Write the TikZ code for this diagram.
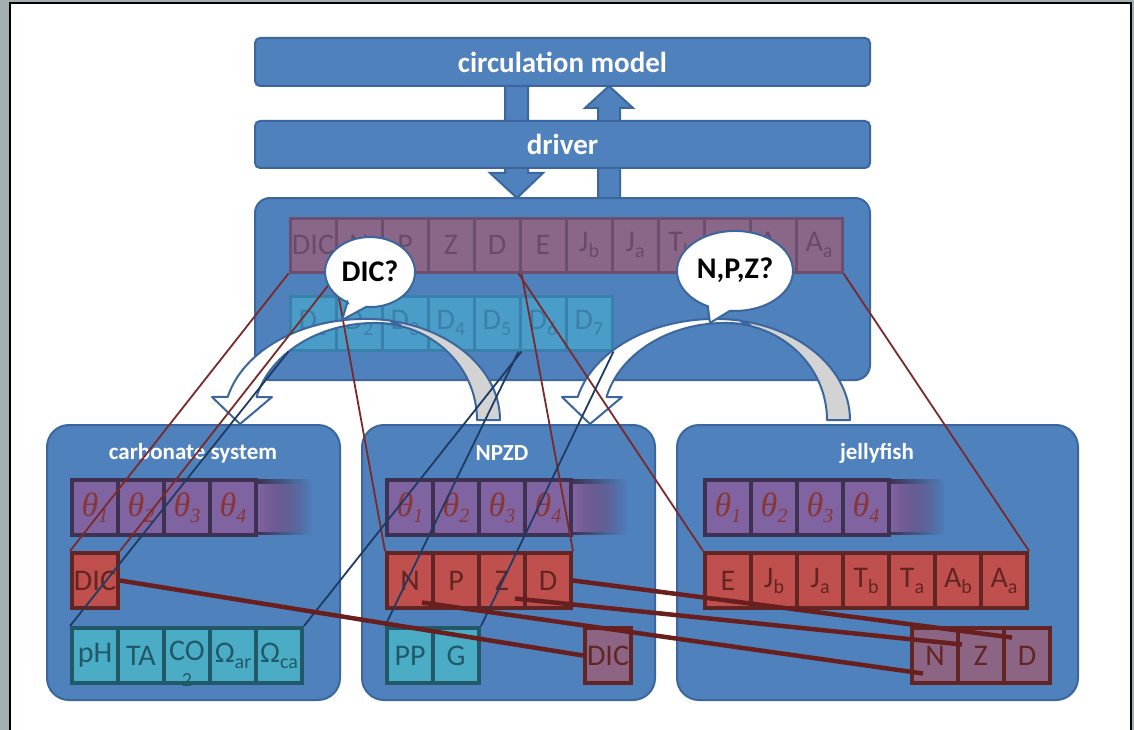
\documentclass[tikz,border=0pt]{standalone}
\usepackage{fontspec}
\setmainfont{Carlito}
\newfontfamily\thetafont{Liberation Serif}
\usetikzlibrary{calc,fadings}

\definecolor{pagegray}{HTML}{A4AFB4}
\definecolor{boxblue}{HTML}{4F81BD}
\definecolor{boxedge}{HTML}{3C679E}
\definecolor{stfill}{HTML}{8A6788}
\definecolor{stedge}{HTML}{6C4E70}
\definecolor{sttext}{HTML}{6A4A6B}
\definecolor{dfill}{HTML}{4A9DC8}
\definecolor{dedge}{HTML}{3A80AC}
\definecolor{dtext}{HTML}{3C7FAA}
\definecolor{thfill}{HTML}{8064A2}
\definecolor{thedge}{HTML}{3F3151}
\definecolor{thtext}{HTML}{8A3535}
\definecolor{redfill}{HTML}{C0504D}
\definecolor{rededge}{HTML}{632523}
\definecolor{tealfill}{HTML}{4BACC6}
\definecolor{tealedge}{HTML}{215968}
\definecolor{mauvefill}{HTML}{8D6584}
\definecolor{thinred}{HTML}{7A2A2A}
\definecolor{navy}{HTML}{1F3B63}
\definecolor{thickred}{HTML}{6A1F1F}
\definecolor{backgray}{HTML}{D3D3D3}

% lowered subscript as in the cell labels
\newcommand{\lo}[1]{\raisebox{-6pt}{\fontsize{20}{20}\selectfont#1}}

\tikzset{
  bar/.style={draw=boxedge, line width=2pt, fill=boxblue, rounded corners=5pt,
    text=white, font=\fontsize{29}{29}\selectfont\bfseries},
  model/.style={draw=boxedge, line width=2pt, fill=boxblue, rounded corners=22pt},
  title/.style={text=white, font=\fontsize{23}{23}\selectfont\bfseries},
  cell/.style={draw, line width=4pt, minimum width=46pt, minimum height=55pt,
    inner sep=0pt, font=\fontsize{30}{30}\selectfont},
  stcell/.style={cell, line width=3pt, fill=stfill, draw=stedge, text=sttext, minimum height=54pt},
  dcell/.style={cell, line width=3pt, fill=dfill, draw=dedge, text=dtext, minimum height=54pt},
  thcell/.style={cell, fill=thfill, draw=thedge, text=thtext,
    font=\fontsize{34}{34}\thetafont\itshape},
  redcell/.style={cell, fill=redfill, draw=rededge, text=rededge},
  tealcell/.style={cell, fill=tealfill, draw=tealedge, text=tealedge},
  mauvecell/.style={cell, fill=mauvefill, draw=rededge, text=rededge},
  blockarrow/.style={draw=boxedge, line width=2pt, fill=boxblue},
  bendband/.style={draw=boxedge, line width=2pt, line join=round},
  bubble/.style={draw=boxedge, line width=2pt, fill=white},
  bubbletext/.style={font=\fontsize{30}{30}\selectfont\bfseries},
  thinlink/.style={line width=1.8pt},
  thicklink/.style={thickred, line width=4.5pt},
}

\begin{document}
\begin{tikzpicture}[x=1pt, y=-1pt]
  \useasboundingbox (0,0) rectangle (1134,730);
  \fill[pagegray] (0,0) rectangle (1134,730);
  \fill[white] (10,3) rectangle (1131,730);
  \draw[line width=2pt] (10,730) -- (10,3) -- (1131,3) -- (1131,730);

  % exchange with the circulation model
  \filldraw[blockarrow] (505,86) -- (528,86) -- (528,173) -- (543,173)
    -- (517,198) -- (490,173) -- (505,173) -- cycle;
  \filldraw[blockarrow] (598,198) -- (620,198) -- (620,108) -- (633,108)
    -- (609,86) -- (585,108) -- (598,108) -- cycle;
  \node[bar, minimum width=615pt, minimum height=48pt] (circ) at (562.5,62) {circulation model};
  \node[bar, minimum width=615pt, minimum height=47pt] (driver) at (562.5,144.5) {driver};

  % state vector held by the driver
  \node[model, rounded corners=15pt, minimum width=615pt, minimum height=182pt] (state) at (562.5,289) {};
  \foreach \t [count=\i] in {DIC,N,P,Z,D,E,J\lo{b},J\lo{a},T\lo{b},T\lo{a},A\lo{b},A\lo{a}}
    \node[stcell] (st\i) at (267+46*\i,245) {\t};
  \foreach \i in {1,...,7}
    \node[dcell] (d\i) at (267+46*\i,323) {D\lo{\i}};

  % the three modules
  \node[model, minimum width=293pt, minimum height=275pt] (carb) at (193.5,562.5) {};
  \node[model, minimum width=293pt, minimum height=275pt] (npzd) at (508.5,562.5) {};
  \node[model, minimum width=401pt, minimum height=275pt] (jelly) at (877.5,562.5) {};
  \node[title] at (193,453) {carbonate system};
  \node[title] at (502,453) {NPZD};
  \node[title] at (877,453) {jellyfish};

  % parameter rows, the last cell fading out
  \foreach \bx/\nm in {72/c,387/n,705/j} {
    \foreach \i in {1,...,4}
      \node[thcell] (\nm th\i) at (\bx-23+46*\i,507.5) {θ\lo{\i}};
    \fill[thedge, path fading=east] (\bx+184,479.5) rectangle (\bx+240,535.5);
    \fill[thfill, path fading=east] (\bx+186,483.5) rectangle (\bx+240,531.5);
  }

  % carbonate system
  \node[redcell] (cdic) at (95,580.5) {DIC};
  \foreach \t [count=\i] in {pH,TA,,Ω\lo{ar},Ω\lo{ca}}
    \node[tealcell] (ct\i) at (49+46*\i,655.5) {\t};
  \node[text=tealedge, align=center, font=\fontsize{30}{30}\selectfont, inner sep=0pt]
    at ($(ct3)+(0,8)$) {CO\\[-4pt]{\fontsize{20}{20}\selectfont 2}};

  % NPZD
  \foreach \t [count=\i] in {N,P,Z,D}
    \node[redcell] (nr\i) at (364+46*\i,580.5) {\t};
  \foreach \t [count=\i] in {PP,G}
    \node[tealcell] (nt\i) at (364+46*\i,655.5) {\t};
  \node[mauvecell] (ndic) at (608,655.5) {DIC};

  % jellyfish
  \foreach \t [count=\i] in {E,J\lo{b},J\lo{a},T\lo{b},T\lo{a},A\lo{b},A\lo{a}}
    \node[redcell] (jr\i) at (682+46*\i,580.5) {\t};
  \foreach \t [count=\i] in {N,Z,D}
    \node[mauvecell] (jm\i) at (889+46*\i,655.5) {\t};

  % hand-over arrows between driver and modules
  \foreach \s in {0,350} {
    \begin{scope}[xshift=\s]
      \filldraw[bendband, fill=backgray] (500,420)
        arc[start angle=0, end angle=-90, x radius=135, y radius=101]
        -- (375,323) arc[start angle=-90, end angle=0, x radius=102, y radius=97] -- cycle;
      \filldraw[bendband, fill=white] (389.5,320.5)
        arc[start angle=-80, end angle=-166.8, x radius=141, y radius=101]
        -- (212,397) -- (240,424) -- (272,397) -- (256.5,397)
        arc[start angle=-166.3, end angle=-78, x radius=122, y radius=97] -- cycle;
    \end{scope}
  }

  % state variables mapped onto the modules
  \begin{scope}[thinlink, thinred]
    \draw (st1.south west) -- (cdic.north west);
    \draw (st1.south east) -- (cdic.north east);
    \draw (st2.south west) -- (nr1.north west);
    \draw (st5.south east) -- (nr4.north east);
    \draw (st6.south west) -- (jr1.north west);
    \draw (st12.south east) -- (jr7.north east);
  \end{scope}
  \begin{scope}[thinlink, navy]
    \draw (d1.south west) -- (ct1.north west);
    \draw (d5.south east) -- (ct5.north east);
    \draw (d6.south west) -- (nt1.north west);
    \draw (d7.south east) -- (nt2.north east);
  \end{scope}

  % shared variables between modules
  \draw[thicklink] (cdic.east) -- (ndic.west);
  \draw[thicklink] ($(nr1)+(12,22)$) -- ($(jm1)+(-12,18)$);
  \draw[thicklink] ($(nr3)+(13,18)$) -- ($(jm2)+(-19,-11)$);
  \draw[thicklink] (nr4.east) -- ($(jm3)+(-15,-18)$);

  % questions
  \filldraw[bubble] (347.5,302.3) -- (342,320) -- (366.1,306.9)
    arc[start angle=95, end angle=-240, x radius=45, y radius=35] -- cycle;
  \node[bubbletext] (qdic) at (370,271) {DIC?};
  \filldraw[bubble] (707.8,306.3) -- (710,323) -- (729.9,310.8)
    arc[start angle=95, end angle=-242, x radius=58, y radius=40] -- cycle;
  \node[bubbletext] (qnpz) at (735,270) {N,P,Z?};
\end{tikzpicture}
\end{document}
